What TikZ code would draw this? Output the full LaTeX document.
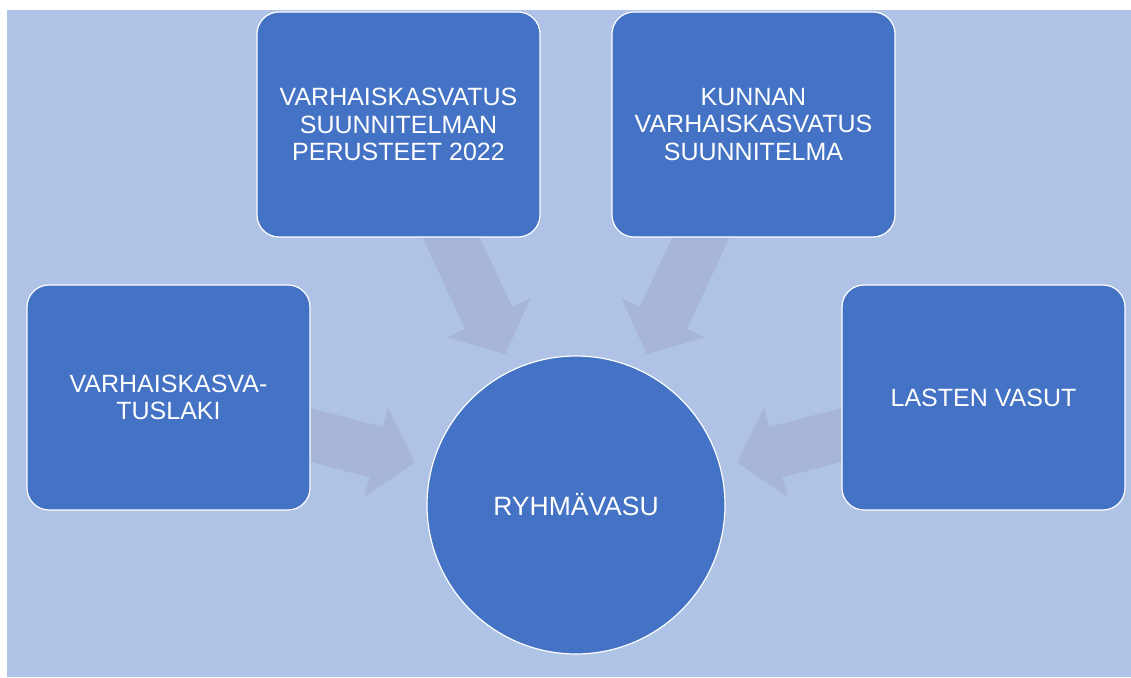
\documentclass[tikz,border=0pt]{standalone}
\usepackage{fontspec}
\setmainfont{Liberation Sans}
\usetikzlibrary{arrows.meta,backgrounds}
\definecolor{boxblue}{HTML}{4472C4}
\definecolor{paleblue}{HTML}{AFC3E6}
\definecolor{arrowgray}{HTML}{A7B5DA}

\begin{document}
\begin{tikzpicture}[x=1pt, y=1pt,
  plate/.style={draw=white, line width=1.2pt, fill=boxblue, rounded corners=22pt, minimum width=283pt, minimum height=225pt, text=white, align=center, font=\fontsize{25}{27.5}\selectfont},
  ball/.style={draw=white, line width=1.2pt, fill=boxblue, circle, minimum size=298pt, text=white, font=\fontsize{26.5}{30}\selectfont},
  flow/.style={draw=arrowgray, line width=52pt, -{Triangle[width=90pt, length=40pt]}, shorten <=-30pt, shorten >=17pt}]
\useasboundingbox (0,0) rectangle (1131,677);
\node  (perusteet)[plate] at (398.5,552.5) {VARHAISKASVATUS\\SUUNNITELMAN\\PERUSTEET 2022};
\node  (kunta)[plate]  [right of = perusteet, node distance=355pt] {KUNNAN\\VARHAISKASVATUS\\SUUNNITELMA};
\node  (laki)[plate]  [below of = perusteet, node distance=273pt, xshift=-230pt] {VARHAISKASVA-\\TUSLAKI};
\node  (lapset)[plate]  [right of = laki, node distance=815pt] {LASTEN VASUT};
\node  (ryhma)[ball] at (576,172) {RYHMÄVASU};
\begin{scope}[on background layer]
\fill[white] (0,0) rectangle (1131,677);
\fill[paleblue] (7,0) rectangle (1131,667);
\draw[flow] (perusteet) -- (ryhma);
\draw[flow] (kunta) -- (ryhma);
\draw[flow] (laki) -- (ryhma);
\draw[flow] (lapset) -- (ryhma);
\end{scope}
\end{tikzpicture}
\end{document}
